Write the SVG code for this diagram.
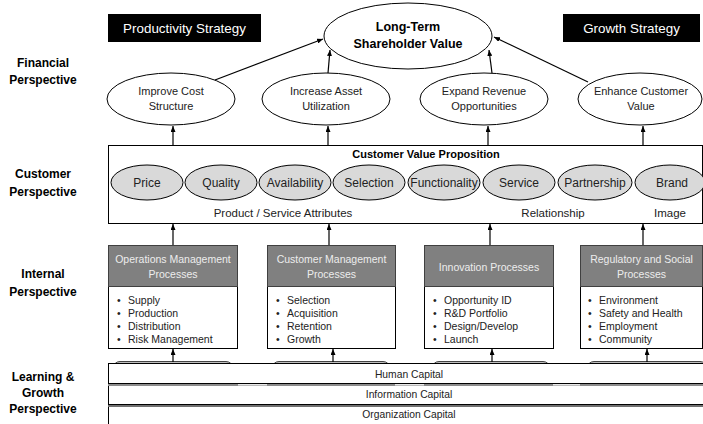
<svg xmlns="http://www.w3.org/2000/svg" width="703" height="424" viewBox="0 0 703 424">
<defs>
<marker id="ah" markerUnits="userSpaceOnUse" markerWidth="6" markerHeight="5" refX="6" refY="2.5" viewBox="0 0 6 5" orient="auto"><path d="M0,0 L6,2.5 L0,5 z" fill="#000"/></marker>
</defs>
<style>
text{font-family:"Liberation Sans",Arial,sans-serif;fill:#222}
.persp{font-size:12px;font-weight:bold;text-anchor:middle;fill:#000}
.fin{fill:#fff;stroke:#000;stroke-width:1}
.cv{fill:#d9d9d9;stroke:#000;stroke-width:1}
.t11{font-size:11px;text-anchor:middle}
.t12{font-size:12px;text-anchor:middle}
.hdr{fill:#808080;stroke:#404040;stroke-width:1}
.hdrt{font-size:10.5px;text-anchor:middle;fill:#ededed}
.body{fill:#fff;stroke:#000;stroke-width:1}
.bul{font-size:10.5px}
.cap{font-size:10.3px;text-anchor:middle}
.conn line{stroke:#000;stroke-width:1.2;fill:none;marker-end:url(#ah)}
.strat{fill:#000}
.stratt{font-size:13.4px;fill:#fff;text-anchor:middle}
</style>
<rect width="703" height="424" fill="#fff"/>

<g id="labels">
<text class="persp" x="43" y="67">Financial</text>
<text class="persp" x="43" y="84">Perspective</text>
<text class="persp" x="43" y="178">Customer</text>
<text class="persp" x="43" y="196">Perspective</text>
<text class="persp" x="43" y="278">Internal</text>
<text class="persp" x="43" y="296">Perspective</text>
<text class="persp" x="43" y="381">Learning &amp;</text>
<text class="persp" x="43" y="397">Growth</text>
<text class="persp" x="43" y="413">Perspective</text>
</g>

<g id="productivity-strategy">
<rect class="strat" x="108" y="14" width="153" height="28"/>
<text class="stratt" x="184.5" y="33">Productivity Strategy</text>
</g>
<g id="growth-strategy">
<rect class="strat" x="563" y="14" width="137" height="28"/>
<text class="stratt" x="631.5" y="33">Growth Strategy</text>
</g>

<g id="shareholder-value">
<ellipse class="fin" cx="408" cy="36" rx="84" ry="33"/>
<text x="408" y="31" style="font-size:12.5px;font-weight:bold;text-anchor:middle;fill:#000">Long-Term</text>
<text x="408" y="48" style="font-size:12.5px;font-weight:bold;text-anchor:middle;fill:#000">Shareholder Value</text>
</g>

<g id="improve-cost">
<ellipse class="fin" cx="171" cy="99" rx="64" ry="26"/>
<text class="t11" x="171" y="95">Improve Cost</text>
<text class="t11" x="171" y="110">Structure</text>
</g>
<g id="increase-asset">
<ellipse class="fin" cx="326" cy="99" rx="64" ry="26"/>
<text class="t11" x="326" y="95">Increase Asset</text>
<text class="t11" x="326" y="110">Utilization</text>
</g>
<g id="expand-revenue">
<ellipse class="fin" cx="484" cy="99" rx="64" ry="26"/>
<text class="t11" x="484" y="95">Expand Revenue</text>
<text class="t11" x="484" y="110">Opportunities</text>
</g>
<g id="enhance-customer">
<ellipse class="fin" cx="640" cy="99" rx="62" ry="26"/>
<text class="t11" x="641" y="95">Enhance Customer</text>
<text class="t11" x="641" y="110">Value</text>
</g>

<g id="customer-value-proposition">
<rect class="body" x="108.5" y="145.5" width="594" height="78"/>
<text x="426" y="158" style="font-size:11px;font-weight:bold;text-anchor:middle;fill:#000">Customer Value Proposition</text>
<ellipse class="cv" cx="147" cy="182.5" rx="36" ry="17.5"/>
<text class="t12" x="147" y="187">Price</text>
<ellipse class="cv" cx="221" cy="182.5" rx="36" ry="17.5"/>
<text class="t12" x="221" y="187">Quality</text>
<ellipse class="cv" cx="295" cy="182.5" rx="36" ry="17.5"/>
<text class="t12" x="295" y="187">Availability</text>
<ellipse class="cv" cx="369" cy="182.5" rx="36" ry="17.5"/>
<text class="t12" x="369" y="187">Selection</text>
<ellipse class="cv" cx="444" cy="182.5" rx="36" ry="17.5"/>
<text class="t12" x="444" y="187">Functionality</text>
<ellipse class="cv" cx="519" cy="182.5" rx="36" ry="17.5"/>
<text class="t12" x="519" y="187">Service</text>
<ellipse class="cv" cx="595" cy="182.5" rx="37" ry="17.5"/>
<text class="t12" x="595" y="187">Partnership</text>
<ellipse class="cv" cx="670" cy="182.5" rx="35" ry="17.5"/>
<text class="t12" x="672" y="187">Brand</text>
<text x="283" y="217" style="font-size:11.5px;text-anchor:middle">Product / Service Attributes</text>
<text x="553" y="217" style="font-size:11.5px;text-anchor:middle">Relationship</text>
<text x="670" y="217" style="font-size:11.5px;text-anchor:middle">Image</text>
</g>

<g id="operations-management">
<rect class="body" x="108.5" y="245.5" width="129" height="103"/>
<rect class="hdr" x="108.5" y="245.5" width="129" height="41"/>
<text class="hdrt" x="173" y="263">Operations Management</text>
<text class="hdrt" x="173" y="278">Processes</text>
<text class="bul" x="117" y="304">•</text><text class="bul" x="128" y="304">Supply</text>
<text class="bul" x="117" y="317">•</text><text class="bul" x="128" y="317">Production</text>
<text class="bul" x="117" y="330">•</text><text class="bul" x="128" y="330">Distribution</text>
<text class="bul" x="117" y="343">•</text><text class="bul" x="128" y="343">Risk Management</text>
</g>
<g id="customer-management">
<rect class="body" x="267.5" y="245.5" width="128" height="103"/>
<rect class="hdr" x="267.5" y="245.5" width="128" height="41"/>
<text class="hdrt" x="331.5" y="263">Customer Management</text>
<text class="hdrt" x="331.5" y="278">Processes</text>
<text class="bul" x="276" y="304">•</text><text class="bul" x="287" y="304">Selection</text>
<text class="bul" x="276" y="317">•</text><text class="bul" x="287" y="317">Acquisition</text>
<text class="bul" x="276" y="330">•</text><text class="bul" x="287" y="330">Retention</text>
<text class="bul" x="276" y="343">•</text><text class="bul" x="287" y="343">Growth</text>
</g>
<g id="innovation">
<rect class="body" x="424.5" y="245.5" width="129" height="103"/>
<rect class="hdr" x="424.5" y="245.5" width="129" height="41"/>
<text class="hdrt" x="489" y="271">Innovation Processes</text>
<text class="bul" x="433" y="304">•</text><text class="bul" x="444" y="304">Opportunity ID</text>
<text class="bul" x="433" y="317">•</text><text class="bul" x="444" y="317">R&amp;D Portfolio</text>
<text class="bul" x="433" y="330">•</text><text class="bul" x="444" y="330">Design/Develop</text>
<text class="bul" x="433" y="343">•</text><text class="bul" x="444" y="343">Launch</text>
</g>
<g id="regulatory-social">
<rect class="body" x="580.5" y="245.5" width="122" height="103"/>
<rect class="hdr" x="580.5" y="245.5" width="122" height="41"/>
<text class="hdrt" x="641.5" y="263">Regulatory and Social</text>
<text class="hdrt" x="641.5" y="278">Processes</text>
<text class="bul" x="588" y="304">•</text><text class="bul" x="599" y="304">Environment</text>
<text class="bul" x="588" y="317">•</text><text class="bul" x="599" y="317">Safety and Health</text>
<text class="bul" x="588" y="330">•</text><text class="bul" x="599" y="330">Employment</text>
<text class="bul" x="588" y="343">•</text><text class="bul" x="599" y="343">Community</text>
</g>

<g id="learning-growth">
<rect x="113" y="361.5" width="120" height="30" rx="7" fill="#bfbfbf" stroke="#444"/>
<rect x="272" y="361.5" width="118" height="30" rx="7" fill="#bfbfbf" stroke="#444"/>
<rect x="432" y="361.5" width="118" height="30" rx="7" fill="#bfbfbf" stroke="#444"/>
<rect x="587" y="361.5" width="120" height="30" rx="7" fill="#bfbfbf" stroke="#444"/>
<rect x="108.5" y="363.5" width="600" height="70" fill="#fff" stroke="#000"/>
<rect x="108" y="383" width="595" height="3" fill="#8c8c8c"/>
<line x1="108" y1="383.5" x2="703" y2="383.5" stroke="#000"/>
<rect x="238" y="384.2" width="29" height="1.2" fill="#fff"/>
<rect x="395" y="384.2" width="29" height="1.2" fill="#fff"/>
<rect x="553" y="384.2" width="27" height="1.2" fill="#fff"/>
<rect x="108" y="404" width="595" height="3" fill="#707070"/>
<line x1="108" y1="404.5" x2="703" y2="404.5" stroke="#000"/>
<text class="cap" x="409" y="378">Human Capital</text>
<text class="cap" x="409" y="398">Information Capital</text>
<text class="cap" x="409" y="418">Organization Capital</text>
</g>

<g id="connectors" class="conn">
<line x1="215" y1="80" x2="323" y2="39"/>
<line x1="328" y1="73" x2="330" y2="50"/>
<line x1="492" y1="73" x2="489" y2="50"/>
<line x1="588" y1="82" x2="494" y2="37"/>
<line x1="173" y1="145" x2="173" y2="126"/>
<line x1="328" y1="145" x2="328" y2="126"/>
<line x1="488" y1="145" x2="488" y2="126"/>
<line x1="643" y1="145" x2="643" y2="126"/>
<line x1="173" y1="245" x2="173" y2="224"/>
<line x1="329" y1="245" x2="329" y2="224"/>
<line x1="490" y1="245" x2="490" y2="224"/>
<line x1="643" y1="245" x2="643" y2="224"/>
<line x1="173" y1="362" x2="173" y2="349"/>
<line x1="333" y1="362" x2="333" y2="349"/>
<line x1="492" y1="362" x2="492" y2="349"/>
<line x1="647" y1="362" x2="647" y2="349"/>
</g>
</svg>
